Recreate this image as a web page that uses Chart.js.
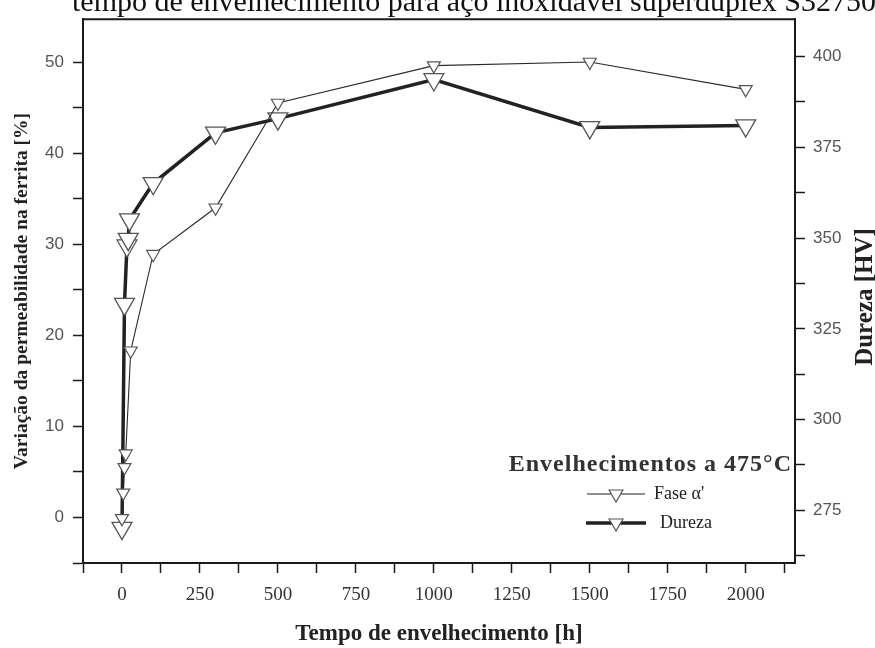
<!DOCTYPE html>
<html>
<head>
<meta charset="utf-8">
<title>Envelhecimentos a 475°C</title>
<script src="https://cdn.jsdelivr.net/npm/chart.js@4.4.1/dist/chart.umd.min.js"></script>
<style>
  body { margin: 0; background: #fff; }
  canvas { display: block; }
</style>
</head>
<body>
<canvas id="agingChart" width="875" height="648"></canvas>
<script>
// values
const faseHours = [0, 4, 8, 12, 28, 100, 300, 500, 1000, 1500, 2000];
const faseValues = [-0.1, 2.7, 5.5, 7.0, 18.3, 28.9, 34.0, 45.5, 49.6, 50.0, 47.0]; // %
const durezaHours = [0, 8, 16, 20, 24, 100, 300, 500, 1000, 1500, 2000];
const durezaValues = [270.1, 331.8, 347.9, 349.7, 355.1, 365.1, 379.0, 382.9, 393.7, 380.5, 381.0]; // HV

// labelled ticks (minor ticks sit half way between them)
const hourTicks = [0, 250, 500, 750, 1000, 1250, 1500, 1750, 2000];
const percentTicks = [0, 10, 20, 30, 40, 50];
const hvTicks = [275, 300, 325, 350, 375, 400];

const ink = '#1a1a1a';
const ctx = document.getElementById('agingChart');

// major + minor tick values inside the scale range
function withMinor(major, min, max) {
  const step = (major[1] - major[0]) / 2;
  const out = [];
  for (let v = major[0] - step * 20; v <= max + 1e-6; v += step) {
    if (v >= min - 1e-6) out.push({ value: v });
  }
  return out;
}

function toPoints(xs, ys) {
  return xs.map((x, i) => ({ x: x, y: ys[i] }));
}

function triangle(c, x, y, r) {
  // downward triangle, vertices on a circle of radius r
  c.beginPath();
  c.moveTo(x, y + r);
  c.lineTo(x - r * 0.866, y - r * 0.5);
  c.lineTo(x + r * 0.866, y - r * 0.5);
  c.closePath();
  c.fillStyle = '#fff';
  c.fill();
  c.stroke();
}

const decorPlugin = {
  id: 'decor',
  afterDraw(chart) {
    const c = chart.ctx;
    const area = chart.chartArea;
    c.save();

    // top edge of the frame
    c.strokeStyle = ink;
    c.lineWidth = 2;
    c.beginPath();
    c.moveTo(area.left, area.top);
    c.lineTo(area.right + 1, area.top);
    c.stroke();

    // heading, cut by the top of the page
    c.fillStyle = '#111';
    c.font = '30px "Liberation Serif"';
    c.textAlign = 'left';
    c.textBaseline = 'alphabetic';
    c.fillText('tempo de envelhecimento para aço inoxidável superduplex S32750', 72, 11);

    // right axis title, reads bottom to top
    c.save();
    c.translate(866, 297);
    c.rotate(-Math.PI / 2);
    c.font = 'bold 25px "Liberation Serif"';
    c.fillStyle = '#222';
    c.textAlign = 'center';
    c.textBaseline = 'middle';
    c.fillText('Dureza [HV]', 0, 0);
    c.restore();

    // legend box
    c.fillStyle = '#333';
    c.font = 'bold 24px "Liberation Serif"';
    c.letterSpacing = '1px';
    c.textAlign = 'right';
    c.textBaseline = 'alphabetic';
    c.fillText('Envelhecimentos a 475°C', 792, 471);
    c.letterSpacing = '0px';

    const rows = [
      { label: "Fase α'", y: 494, width: 1.2, x0: 587, x1: 645, tx: 654 },
      { label: 'Dureza', y: 523, width: 3.5, x0: 586, x1: 646, tx: 660 }
    ];
    c.font = '18px "Liberation Serif"';
    c.textAlign = 'left';
    c.textBaseline = 'middle';
    rows.forEach(row => {
      const mid = (row.x0 + row.x1) / 2;
      c.strokeStyle = '#222';
      c.lineWidth = row.width;
      c.beginPath();
      c.moveTo(row.x0, row.y);
      c.lineTo(row.x1, row.y);
      c.stroke();
      c.lineWidth = 1.2;
      c.strokeStyle = '#555';
      triangle(c, mid, row.y, 8);
      c.fillStyle = '#222';
      c.fillText(row.label, row.tx, row.y);
    });

    c.restore();
  }
};

const tickGrid = {
  display: true,
  drawOnChartArea: false,
  drawTicks: true,
  tickLength: 10,
  tickColor: ink,
  tickWidth: 1.5
};

const chart = new Chart(ctx, {
  type: 'line',
  data: {
    datasets: [
      {
        label: "Fase α'",
        data: toPoints(faseHours, faseValues),
        yAxisID: 'yFase',
        borderColor: '#2a2a2a',
        borderWidth: 1.1,
        pointStyle: 'triangle',
        rotation: 180,
        pointRadius: 7.5,
        pointBorderColor: '#555',
        pointBorderWidth: 1.2,
        pointBackgroundColor: '#fff',
        tension: 0
      },
      {
        label: 'Dureza',
        data: toPoints(durezaHours, durezaValues),
        yAxisID: 'yDureza',
        borderColor: '#222',
        borderWidth: 3.5,
        pointStyle: 'triangle',
        rotation: 180,
        pointRadius: 11.5,
        pointBorderColor: '#555',
        pointBorderWidth: 1.3,
        pointBackgroundColor: '#fff',
        tension: 0
      }
    ]
  },
  options: {
    responsive: false,
    animation: false,
    layout: { padding: { top: 12, left: 0, right: 0, bottom: 0 } },
    plugins: {
      legend: { display: false },
      tooltip: { enabled: false }
    },
    scales: {
      x: {
        type: 'linear',
        position: 'bottom',
        min: -125,
        max: 2158,
        afterBuildTicks: s => { s.ticks = withMinor(hourTicks, s.min, s.max); },
        afterFit: s => { s.height = 85; },
        grid: tickGrid,
        border: { display: true, color: ink, width: 2 },
        ticks: {
          autoSkip: false,
          maxRotation: 0,
          padding: 11,
          color: '#333',
          font: { family: 'Liberation Serif', size: 19 },
          callback: v => hourTicks.includes(v) ? String(v) : ''
        },
        title: {
          display: true,
          text: 'Tempo de envelhecimento [h]',
          color: '#222',
          font: { family: 'Liberation Serif', size: 23, weight: 'bold' },
          padding: { top: 2, bottom: 0 }
        }
      },
      yFase: {
        type: 'linear',
        position: 'left',
        min: -5,
        max: 54.7,
        afterBuildTicks: s => { s.ticks = withMinor(percentTicks, s.min, s.max); },
        afterFit: s => { s.width = 83; },
        grid: tickGrid,
        border: { display: true, color: ink, width: 2 },
        ticks: {
          autoSkip: false,
          padding: 9,
          color: '#555',
          font: { family: 'Liberation Sans', size: 17 },
          callback: v => percentTicks.includes(v) ? String(v) : ''
        },
        title: {
          display: true,
          text: 'Variação da permeabilidade na ferrita [%]',
          color: '#222',
          font: { family: 'Liberation Serif', size: 19.5, weight: 'bold' },
          padding: { top: 10, bottom: 0 }
        }
      },
      yDureza: {
        type: 'linear',
        position: 'right',
        min: 260.5,
        max: 410.3,
        afterBuildTicks: s => { s.ticks = withMinor(hvTicks, s.min, s.max); },
        afterFit: s => { s.width = 80; },
        grid: tickGrid,
        border: { display: true, color: ink, width: 2 },
        ticks: {
          autoSkip: false,
          padding: 8,
          color: '#555',
          font: { family: 'Liberation Sans', size: 17 },
          callback: v => hvTicks.includes(v) ? String(v) : ''
        }
      }
    }
  },
  plugins: [decorPlugin]
});
</script>
</body>
</html>
